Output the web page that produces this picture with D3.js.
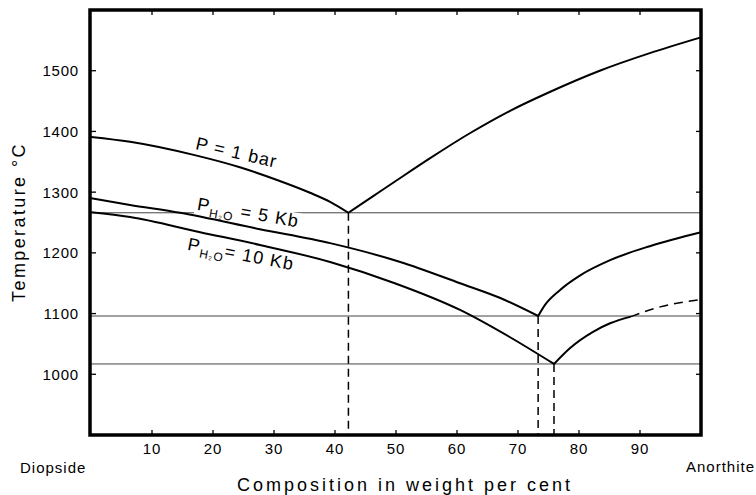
<!DOCTYPE html>
<html>
<head>
<meta charset="utf-8">
<script src="https://cdn.jsdelivr.net/npm/d3@7"></script>
<style>
  body { margin: 0; background: #fff; }
  svg { display: block; font-family: "Liberation Sans", Arial, Helvetica, sans-serif; }
</style>
</head>
<body>
<svg id="chart" width="756" height="495"></svg>
<script>
// Diopside–anorthite liquidus at 1 bar (dry) and under water pressure of 5 and 10 kb
const xTicks = [10, 20, 30, 40, 50, 60, 70, 80, 90];
const yTicks = [1000, 1100, 1200, 1300, 1400, 1500];

// [wt % anorthite, temperature °C]
const dry1barDi  = [[0, 1391], [6.4, 1383], [17, 1361], [24.4, 1341], [30.5, 1320], [35.9, 1299], [39.2, 1284], [42.2, 1266]];
const dry1barAn  = [[42.2, 1266], [46.2, 1293], [50.2, 1320], [55.6, 1356], [62.1, 1397], [68.7, 1434], [75.2, 1465], [83.4, 1500], [91.6, 1529], [100, 1555]];
const wet5kbDi   = [[0, 1290], [6.4, 1279], [14.6, 1266], [27.7, 1239], [39.2, 1216], [50.7, 1185], [60.5, 1150], [67, 1126], [73.3, 1096]];
const wet5kbAn   = [[73.3, 1096], [74.4, 1114], [76.9, 1139], [80.2, 1163], [85.1, 1188], [91.6, 1211], [100, 1234]];
const wet10kbDi  = [[0, 1267], [6.4, 1259], [17.9, 1234], [27.7, 1213], [39.2, 1185], [49.8, 1150], [60.5, 1106], [68.7, 1061], [75.9, 1017]];
const wet10kbAn  = [[75.9, 1017], [78.5, 1043], [82.3, 1070], [85.1, 1084], [88.5, 1095]];
const wet10kbAnDashed = [[88.5, 1095], [93.3, 1111], [100, 1123]];

// eutectic points: composition and temperature
const eutectics = [[42.2, 1266], [73.3, 1096], [75.9, 1017]];

const svg = d3.select("#chart");
const x = d3.scaleLinear().domain([0, 100]).range([91, 701]);
const y = d3.scaleLinear().domain([900, 1600]).range([435, 10]);

const line = d3.line().x(d => x(d[0])).y(d => y(d[1])).curve(d3.curveMonotoneX);

// isotherms through the eutectics
svg.append("g").selectAll("line").data(eutectics).join("line")
  .attr("x1", x(0)).attr("x2", x(100))
  .attr("y1", d => y(d[1])).attr("y2", d => y(d[1]))
  .attr("stroke", "#444").attr("stroke-width", 1);

// vertical dashed lines from each eutectic to the base
svg.append("g").selectAll("line").data(eutectics).join("line")
  .attr("x1", d => x(d[0])).attr("x2", d => x(d[0]))
  .attr("y1", d => y(d[1])).attr("y2", y(900))
  .attr("stroke", "#000").attr("stroke-width", 1.5)
  .attr("stroke-dasharray", "8,5");

// curve labels
function label(txt, ax, at, angle, sub) {
  const g = svg.append("g")
    .attr("transform", `translate(${x(ax)},${y(at)}) rotate(${angle})`);
  const bg = g.append("rect").attr("fill", "#fff");
  const t = g.append("text").attr("font-size", 18).attr("letter-spacing", 1.1).attr("fill", "#000");
  t.append("tspan").text("P");
  if (sub) {
    t.append("tspan").attr("font-size", 12).attr("dy", 5).text("H");
    t.append("tspan").attr("font-size", 6).attr("dy", 1).text("2");
    t.append("tspan").attr("font-size", 12).attr("dy", -1).text("O");
    t.append("tspan").attr("dy", -5).text(txt);
  } else {
    t.append("tspan").text(txt);
  }
  const b = t.node().getBBox();
  bg.attr("x", b.x - 2).attr("y", b.y + 2).attr("width", b.width + 4).attr("height", b.height - 5);
  return g;
}
label(" = 1 bar", 17, 1371, 13, false);
label(" = 5 Kb", 17.3, 1271, 9.8, true);
label("= 10 Kb", 15.7, 1205, 11, true);

// liquidus curves
const solid = [dry1barDi, dry1barAn, wet5kbDi, wet5kbAn, wet10kbDi, wet10kbAn];
svg.append("g").selectAll("path").data(solid).join("path")
  .attr("d", line).attr("fill", "none")
  .attr("stroke", "#000").attr("stroke-width", 2);
svg.append("path").datum(wet10kbAnDashed)
  .attr("d", line).attr("fill", "none")
  .attr("stroke", "#000").attr("stroke-width", 1.5)
  .attr("stroke-dasharray", "9,6");

// inward ticks on all four sides
const tk = 5;
const ticks = svg.append("g").attr("stroke", "#000").attr("stroke-width", 1.3);
xTicks.forEach(v => {
  ticks.append("line").attr("x1", x(v)).attr("x2", x(v)).attr("y1", y(900)).attr("y2", y(900) - tk);
  ticks.append("line").attr("x1", x(v)).attr("x2", x(v)).attr("y1", y(1600)).attr("y2", y(1600) + tk);
});
yTicks.forEach(v => {
  ticks.append("line").attr("x1", x(0)).attr("x2", x(0) + tk).attr("y1", y(v)).attr("y2", y(v));
  ticks.append("line").attr("x1", x(100)).attr("x2", x(100) - tk).attr("y1", y(v)).attr("y2", y(v));
});

// frame
svg.append("rect")
  .attr("x", x(0) - 1).attr("y", y(1600))
  .attr("width", x(100) - x(0) + 1).attr("height", y(900) - y(1600))
  .attr("fill", "none").attr("stroke", "#000").attr("stroke-width", 3.5);

// tick labels
svg.append("g").selectAll("text").data(xTicks).join("text")
  .attr("x", d => x(d)).attr("y", 454)
  .attr("text-anchor", "middle").attr("font-size", 15).attr("letter-spacing", 0.8)
  .text(d => d);
svg.append("g").selectAll("text").data(yTicks).join("text")
  .attr("x", 79).attr("y", d => y(d) + 5.5)
  .attr("text-anchor", "end").attr("font-size", 15).attr("letter-spacing", 0.8)
  .text(d => d);

// end members and axis titles
svg.append("text").attr("x", 20).attr("y", 473).attr("font-size", 15).attr("letter-spacing", 1).text("Diopside");
svg.append("text").attr("x", 755).attr("y", 472).attr("text-anchor", "end").attr("font-size", 15).attr("letter-spacing", 1).text("Anorthite");
svg.append("text").attr("x", 405).attr("y", 491).attr("text-anchor", "middle")
  .attr("font-size", 18).attr("letter-spacing", 3).text("Composition in weight per cent");
svg.append("text").attr("transform", "translate(25,222) rotate(-90)").attr("text-anchor", "middle")
  .attr("font-size", 18).attr("letter-spacing", 2.4).text("Temperature °C");
</script>
</body>
</html>
